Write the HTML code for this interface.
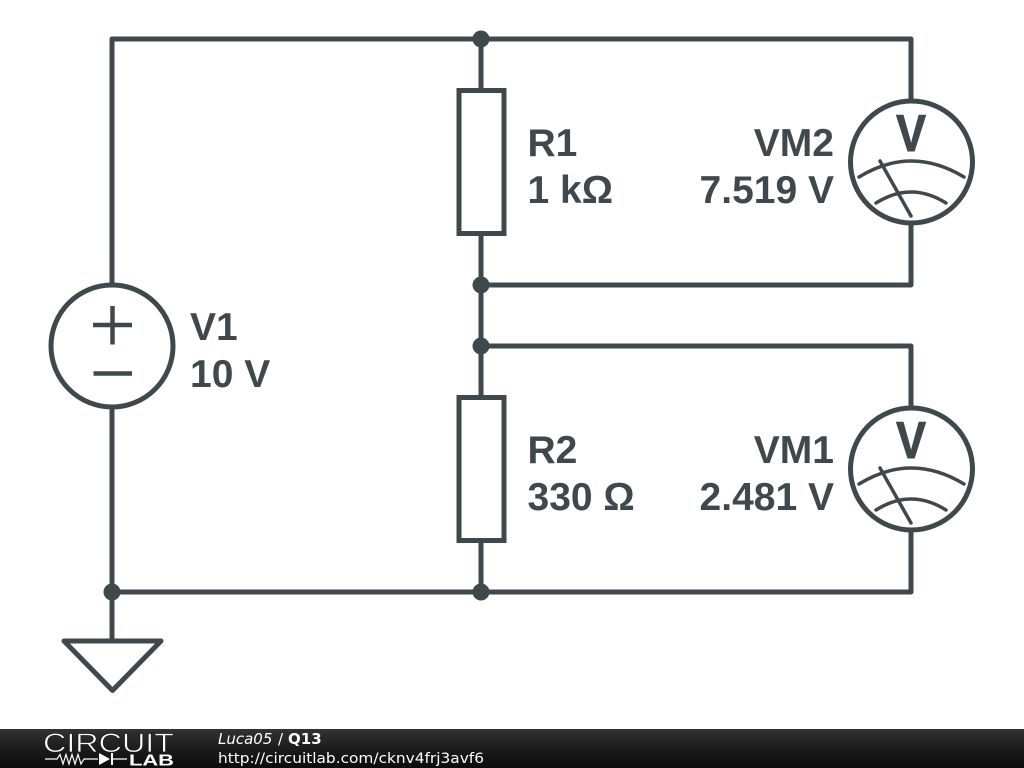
<!DOCTYPE html>
<html>
<head>
<meta charset="utf-8">
<style>
html,body{margin:0;padding:0;background:#fff;width:1024px;height:768px;overflow:hidden}
svg{display:block}
</style>
</head>
<body>
<svg width="1024" height="768" viewBox="0 0 1024 768" xmlns="http://www.w3.org/2000/svg">
<defs>
<linearGradient id="bar" x1="0" y1="0" x2="0" y2="1">
<stop offset="0" stop-color="#333"/>
<stop offset="0.5" stop-color="#1c1c1c"/>
<stop offset="1" stop-color="#0c0c0c"/>
</linearGradient>
<g id="vm">
<circle cx="0.500" cy="0" r="61" fill="none" stroke="#3f484d" stroke-width="5"/>
<path d="M-52 15 Q0 -17 53 15" fill="none" stroke="#3f484d" stroke-width="3.500" stroke-linecap="round"/>
<path d="M-35 41 Q0 19 35 41" fill="none" stroke="#3f484d" stroke-width="3.500" stroke-linecap="round"/>
<path d="M-31 -1 L0 54" fill="none" stroke="#3f484d" stroke-width="3.500" stroke-linecap="round"/>
</g>
</defs>
<rect width="1024" height="768" fill="#fff"/>
<g fill="none" stroke="#3f484d" stroke-width="5" stroke-linecap="round" stroke-linejoin="round">
<path d="M112 284 V39 H911 V100"/>
<path d="M112 408 V592"/>
<path d="M911 224 V285 H481"/>
<path d="M481 39 V90"/>
<path d="M481 234 V397"/>
<path d="M481 346 H911 V407"/>
<path d="M481 541 V592"/>
<path d="M911 531 V592 H112"/>
<path d="M112 592 V640"/>
<path d="M64 641 H161 L112.500 690.500 Z"/>
<rect x="459" y="90.500" width="45" height="143" stroke-linejoin="miter"/>
<rect x="459" y="397.500" width="45" height="143" stroke-linejoin="miter"/>
<circle cx="112" cy="346" r="61"/>
<path d="M93 325 H132 M112.500 306 V344.500 M93.500 373.500 H132" stroke-width="4.500" stroke-linecap="butt"/>
</g>
<g fill="#3f484d">
<circle cx="481" cy="39" r="8.500"/>
<circle cx="481" cy="285" r="8.500"/>
<circle cx="481" cy="346" r="8.500"/>
<circle cx="481" cy="592" r="8.500"/>
<circle cx="112" cy="592" r="8.500"/>
</g>
<use href="#vm" x="911" y="162"/>
<use href="#vm" x="911" y="469"/>
<g font-family="'Liberation Sans',sans-serif" font-weight="700" font-size="39" fill="#3f484d">
<text x="190" y="340">V1</text>
<text x="190" y="387">10 V</text>
<text x="527.500" y="156">R1</text>
<text x="527.500" y="203">1 kΩ</text>
<text x="527.500" y="463">R2</text>
<text x="527.500" y="510">330 Ω</text>
<text x="834" y="156" text-anchor="end">VM2</text>
<text x="834" y="203" text-anchor="end">7.519 V</text>
<text x="834" y="463" text-anchor="end">VM1</text>
<text x="834" y="510" text-anchor="end">2.481 V</text>
<text transform="translate(911 151) scale(0.86 1)" text-anchor="middle" font-size="52" stroke="#3f484d" stroke-width="1">V</text>
<text transform="translate(911 458) scale(0.86 1)" text-anchor="middle" font-size="52" stroke="#3f484d" stroke-width="1">V</text>
</g>
<rect x="0" y="729" width="1024" height="39" fill="url(#bar)"/>
<text x="43" y="752" font-family="'Liberation Sans',sans-serif" font-size="27" fill="#fff" stroke="#1c1c1c" stroke-width="0.700" textLength="131" lengthAdjust="spacingAndGlyphs">CIRCUIT</text>
<path d="M45 759 H57 L60 754.500 L63 764 L66 754.500 L69 764 L72 754.500 L75 764 L78 754.500 L81 764 L84 759 H98 M113 759 H127" fill="none" stroke="#fff" stroke-width="1.200"/>
<path d="M99 753 L110 759 L99 765 Z M111 753 H113 V765 H111 Z" fill="#fff"/>
<text x="129" y="765.500" font-family="'Liberation Sans',sans-serif" font-size="16" font-weight="700" fill="#fff" textLength="45" lengthAdjust="spacingAndGlyphs">LAB</text>
<g font-family="'DejaVu Sans',sans-serif" fill="#fff">
<text x="218" y="744" font-size="15" font-style="italic">Luca05</text>
<text x="278" y="744" font-size="15">/</text>
<text x="288" y="744" font-size="15" font-weight="700">Q13</text>
<text x="218" y="763" font-size="14.500" textLength="266" lengthAdjust="spacingAndGlyphs">http://circuitlab.com/cknv4frj3avf6</text>
</g>
</svg>
</body>
</html>
